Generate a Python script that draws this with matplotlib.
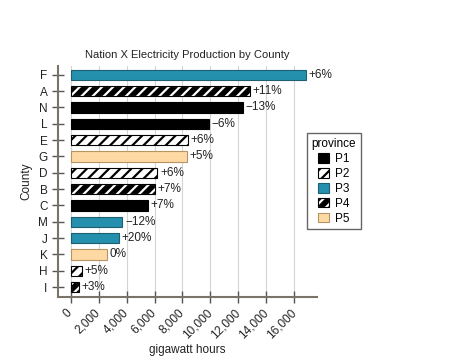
import matplotlib
matplotlib.use("Agg")
import matplotlib.pyplot as plt
from matplotlib.patches import Patch

plt.rcParams['font.family'] = ['Liberation Sans', 'DejaVu Sans']
plt.rcParams['hatch.linewidth'] = 1.6

# data, top to bottom
counties = ["F", "A", "N", "L", "E", "G", "D", "B", "C", "M", "J", "K", "H", "I"]
gwh = [16800, 12800, 12300, 9900, 8400, 8300, 6200, 6000, 5500, 3700, 3450, 2600, 830, 600]
province = ["P3", "P4", "P1", "P1", "P2", "P5", "P2", "P4", "P1", "P3", "P3", "P5", "P2", "P4"]
change = ["+6%", "+11%", "\u221213%", "\u22126%", "+6%", "+5%", "+6%", "+7%", "+7%",
          "\u221212%", "+20%", "0%", "+5%", "+3%"]
provinces = ["P1", "P2", "P3", "P4", "P5"]
xticks = [0, 2000, 4000, 6000, 8000, 10000, 12000, 14000, 16000]

styles = {
    "P1": dict(facecolor="black", edgecolor="black", hatch=None),
    "P2": dict(facecolor="white", edgecolor="black", hatch="///"),
    "P3": dict(facecolor="#2590ad", edgecolor="#1d5f70", hatch=None),
    "P4": dict(facecolor="black", edgecolor="white", hatch="///"),
    "P5": dict(facecolor="#ffd9a3", edgecolor="#b89464", hatch=None),
}

fig = plt.figure(figsize=(4.75, 3.56), dpi=100)
ax = fig.add_axes([0.122, 0.166, 0.545, 0.649])

ypos = list(range(len(counties)))
for y, v, p, lab in zip(ypos, gwh, province, change):
    st = styles[p]
    bars = ax.barh(y, v, height=0.62, facecolor=st["facecolor"],
                   edgecolor=st["edgecolor"], hatch=st["hatch"], lw=0.8, zorder=3)
    if p == "P4":
        bars = ax.barh(y, v, height=0.62, fill=False, edgecolor="black", lw=0.8, zorder=4)
    ax.bar_label(bars, labels=[lab], padding=2, fontsize=8.5, color="#222222")

ax.set_yticks(ypos)
ax.set_yticklabels(counties)
ax.set_ylim(13.6, -0.55)
ax.set_xlim(-900, 17600)
ax.set_xticks(xticks)
ax.set_xticklabels([f"{t:,}" for t in xticks], rotation=45, ha="right",
                   va="center", rotation_mode="anchor")
ax.grid(axis="x", color="#d4d4d4", lw=0.8, zorder=0)
ax.tick_params(axis="both", direction="inout", length=8, width=1, color="#555555",
               labelsize=8.5, labelcolor="#222222")
ax.tick_params(axis="x", pad=6)
for s in ["top", "right"]:
    ax.spines[s].set_visible(False)
for s in ["left", "bottom"]:
    ax.spines[s].set_color("#7a7468")
    ax.spines[s].set_linewidth(1.5)

ax.set_title("Nation X Electricity Production by County", fontsize=8, color="#222222", pad=6)
ax.set_xlabel("gigawatt hours", fontsize=8.5, color="#222222", labelpad=2)
ax.set_ylabel("County", fontsize=8.5, color="#222222")

handles = []
for p in provinces:
    st = styles[p]
    h = Patch(facecolor=st["facecolor"], edgecolor=st["edgecolor"], hatch=st["hatch"], lw=0.8)
    if p == "P4":
        h = (h, Patch(fill=False, edgecolor="black", lw=0.8))
    handles.append(h)
leg = fig.legend(handles, provinces, title="province", loc="upper left",
                 bbox_to_anchor=(0.646, 0.626), borderaxespad=0, fontsize=8.5,
                 title_fontsize=8.5, handlelength=0.9, handleheight=0.9,
                 handletextpad=0.5, fancybox=False, edgecolor="#666666",
                 framealpha=1, borderpad=0.4, labelspacing=0.25)

fig.savefig("out.png", dpi=100)
